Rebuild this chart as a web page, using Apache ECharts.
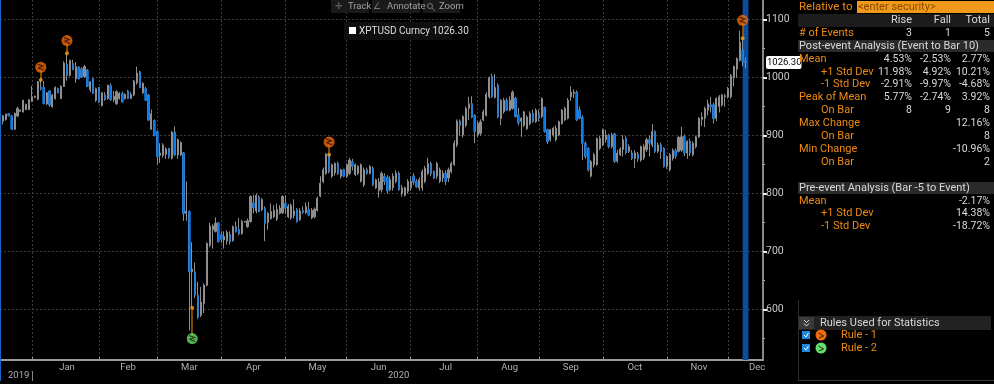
<!DOCTYPE html>
<html>
<head>
<meta charset="utf-8">
<style>
  html, body { margin: 0; padding: 0; background: #000; }
  #chart { width: 994px; height: 384px; }
</style>
<script src="https://cdn.jsdelivr.net/npm/echarts@6/dist/echarts.min.js"></script>
</head>
<body>
<div id="chart"></div>
<script>
// XPTUSD daily candles (one entry per weekday)
const opens = [
  927,925,928,938,934,911,934,942,941,945,
  945,959,966,963,983,983,955,977,950,964,
  981,964,985,1023,1004,1024,998,1018,1015,1002,
  1013,979,998,961,983,952,970,964,986,962,
  955,964,973,964,977,964,970,991,1010,974,
  981,970,911,926,907,866,866,868,878,861,
  906,867,867,870,766,769,665,665,625,590,
  610,642,711,738,735,750,729,720,718,729,
  719,743,738,731,751,743,752,784,770,794,
  772,775,750,757,760,756,766,767,783,760,
  758,762,772,755,771,767,772,758,760,771,
  796,821,835,868,830,836,852,830,841,830,
  835,855,833,835,821,815,841,835,844,810,
  805,807,830,828,807,810,821,835,800,797,
  804,810,830,821,810,810,821,835,852,838,
  830,821,827,835,827,838,850,884,925,901,
  918,947,955,935,901,904,927,935,967,1002,
  966,987,930,941,961,944,947,964,936,925,
  918,912,921,938,924,936,933,949,910,893,
  901,893,901,921,927,930,967,973,975,944,
  932,887,878,830,850,850,878,884,893,901,
  881,903,856,867,876,895,873,870,861,868,
  858,862,876,893,884,907,873,884,878,847,
  841,861,874,873,875,899,870,890,867,881,
  898,928,930,944,953,953,930,950,953,967,
  967,967,1000,1015,1030,1048,1028
];
const closes = [
  935,934,937,934,911,938,947,944,961,954,
  962,967,968,993,981,955,974,953,970,983,
  974,985,1025,1004,1030,1014,1019,998,1001,1019,
  985,993,973,981,958,974,963,987,962,968,
  976,973,958,971,964,971,994,1008,983,990,
  961,927,938,900,864,870,884,877,863,906,
  867,893,888,766,770,665,670,625,587,613,
  642,714,744,744,749,717,721,726,733,717,
  743,734,731,752,752,753,795,776,797,769,
  790,749,766,769,771,773,775,795,775,778,
  780,770,752,770,768,778,763,771,773,792,
  818,841,868,838,850,852,835,841,830,850,
  858,847,850,847,850,841,835,847,815,824,
  820,835,821,805,824,830,835,807,810,810,
  821,821,820,812,824,838,844,852,835,827,
  852,841,835,821,841,852,887,925,918,933,
  947,955,932,907,921,924,941,971,1000,967,
  983,932,961,961,944,961,975,933,922,930,
  941,932,938,924,944,930,964,907,890,910,
  913,913,924,944,947,961,975,975,927,930,
  887,864,841,855,867,895,895,910,901,881,
  901,856,870,877,893,871,881,861,870,860,
  881,881,893,887,907,873,884,873,847,864,
  867,875,865,897,898,870,890,870,887,898,
  930,932,947,955,950,930,964,967,970,969,
  981,1004,1019,1033,1061,1027,1026.3
];
const lows = [
  925,919,926,933,910,910,932,941,940,944,
  944,958,965,961,978,955,953,950,948,962,
  973,963,984,995,1002,1013,991,997,1000,1000,
  984,975,972,958,956,950,960,962,960,958,
  953,962,957,962,963,963,968,988,982,972,
  960,926,910,899,850,853,862,860,860,859,
  865,860,865,753,753,564,604,620,584,587,
  594,640,708,705,733,716,715,705,712,712,
  717,733,728,729,750,741,750,766,766,768,
  770,718,738,755,758,753,764,765,765,758,
  755,757,750,753,765,765,761,756,757,769,
  794,818,832,835,827,831,832,826,828,827,
  832,840,830,832,819,812,833,833,813,808,
  793,802,815,800,804,805,818,805,795,795,
  800,805,815,810,805,805,818,832,830,825,
  825,818,820,815,820,835,848,880,900,897,
  915,927,930,887,898,900,925,933,964,965,
  964,930,918,938,943,942,945,931,918,898,
  915,910,918,922,922,925,930,905,886,890,
  898,890,899,919,925,928,960,965,925,928,
  858,860,838,828,845,848,875,882,888,878,
  878,853,853,865,864,868,870,858,844,855,
  855,858,872,864,880,870,870,860,845,843,
  838,857,860,871,872,865,860,865,864,878,
  896,917,915,935,940,921,925,940,950,950,
  964,964,985,1000,1028,1020,1016
];
const highs = [
  937,936,938,939,936,940,950,945,962,955,
  963,986,969,994,996,994,975,978,972,985,
  983,987,1028,1041,1031,1031,1027,1020,1018,1022,
  1015,994,1000,983,984,975,975,988,990,977,
  978,975,976,973,979,975,996,1019,1012,992,
  984,972,945,928,909,887,887,880,879,908,
  916,895,890,872,821,771,716,681,648,639,
  645,716,750,747,759,751,735,735,737,735,
  745,752,758,755,753,757,797,798,800,797,
  792,778,768,783,780,783,780,797,797,782,
  783,790,775,775,778,785,786,775,776,795,
  830,845,870,868,852,854,855,843,843,852,
  862,860,852,849,852,845,845,849,847,826,
  827,838,835,832,830,835,840,838,815,812,
  825,830,835,825,828,842,848,862,855,840,
  855,845,840,840,845,855,892,928,928,935,
  950,967,968,937,925,928,945,975,1002,1007,
  1006,990,963,965,965,968,978,967,948,932,
  943,935,942,945,947,945,966,950,912,912,
  915,918,926,946,950,965,985,980,978,950,
  935,890,880,858,870,897,900,912,910,903,
  905,905,875,880,901,899,885,875,875,872,
  883,885,897,900,920,909,888,888,880,866,
  870,878,878,899,915,902,892,895,890,900,
  932,940,950,962,967,957,966,970,972,972,
  984,1006,1021,1035,1081,1068,1035
];

// time axis: 263 weekday slots, month starts and where the month names sit
const slotCount = 263;
const monthStarts = [11, 34, 54, 76, 98, 119, 141, 164, 185, 207, 229, 250];
const monthNames = ['Jan', 'Feb', 'Mar', 'Apr', 'May', 'Jun', 'Jul', 'Aug', 'Sep', 'Oct', 'Nov', 'Dec'];
const monthLabelSlots = [23, 44, 65, 87, 109, 130, 153, 175, 196, 218, 240, 260];

const majorTicks = [600, 700, 800, 900, 1000, 1100];
const minorTicks = [550, 650, 750, 850, 950, 1050];
const lastPrice = 1026.3;

// event markers: slot, dot value, icon value
const rule1Slots = [14, 23, 113, 255];
const rule1Dots = [996, 1042, 867, 1068];
const rule1Icons = [1018, 1064, 889, 1099];
const rule2Slots = [66];
const rule2Dots = [603];
const rule2Icons = [550];
const bandSlots = [255, 257];

// statistics panel
const statHeaders = ['Rise', 'Fall', 'Total'];
const statLabels = ['# of Events', 'Mean', '+1 Std Dev', '-1 Std Dev', 'Peak of Mean', 'On Bar', 'Max Change', 'On Bar', 'Min Change', 'On Bar'];
const statRise = ['3', '4.53%', '11.98%', '-2.91%', '5.77%', '8', '', '', '', ''];
const statFall = ['1', '-2.53%', '4.92%', '-9.97%', '-2.74%', '9', '', '', '', ''];
const statTotal = ['5', '2.77%', '10.21%', '-4.68%', '3.92%', '8', '12.16%', '8', '-10.96%', '2'];
const statRowY = [33, 59, 72, 84.5, 97, 110, 123, 136, 149, 162];
const statIndented = [false, false, true, true, false, true, false, true, false, true];
const preLabels = ['Mean', '+1 Std Dev', '-1 Std Dev'];
const preTotal = ['-2.17%', '14.38%', '-18.72%'];
const preRowY = [201, 213.5, 226];

const ORANGE = '#ee8a12';
const WHITE = '#d9d9d9';
const RULE1 = '#f26a0a';
const RULE2 = '#63e06a';
const FONT = 'Roboto, "Liberation Sans", sans-serif';
const GLYPH = 'path://M2 1L8 3.5L3 6L9 9';

const categories = Array.from({ length: slotCount }, (_, i) => String(i));
const candles = opens.map((o, i) => [o, closes[i], lows[i], highs[i]]);
// blue bodies go on top of the grey candles so the wicks stay grey
const downBodies = opens.map((o, i) => (o > closes[i] ? [o, closes[i], closes[i], o] : '-'));

const pairs = (slots, values) => slots.map((s, i) => [s, values[i]]);
const stems = (slots, dots, icons) => slots.map((s, i) => [{ coord: [s, dots[i]] }, { coord: [s, icons[i]] }]);

const txt = (x, y, text, fill, align, size) => ({
  type: 'text', x, y, silent: true, z: 20,
  style: { text, fill, font: `${size || 10.5}px ${FONT}`, textAlign: align || 'left', textVerticalAlign: 'middle' }
});
const box = (x, y, width, height, fill) => ({
  type: 'rect', silent: true, z: 15, shape: { x, y, width, height }, style: { fill }
});
const rule = (x1, y1, x2, y2, stroke) => ({
  type: 'line', silent: true, z: 25, shape: { x1, y1, x2, y2 }, style: { stroke, lineWidth: 1 }
});

const panel = [
  box(0, 0, 1, 381, '#1668c4'),
  rule(798.5, 300, 798.5, 380, '#2c2c2c'),
  rule(798, 380.5, 994, 380.5, '#3a3a3a'),
  txt(799, 7, 'Relative to', ORANGE, 'left', 11.5),
  box(857, 1, 137, 12, '#f0991a'),
  txt(858, 7, '<enter security>', '#8a4a00', 'left', 11),
  box(798, 14, 196, 13, '#1c1c1c'),
  box(798, 40, 196, 12, '#2a2a2a'),
  txt(799, 46, 'Post-event Analysis (Event to Bar 10)', WHITE, 'left', 11),
  box(798, 182, 196, 12, '#2a2a2a'),
  txt(799, 188, 'Pre-event Analysis (Bar -5 to Event)', WHITE, 'left', 11),
  box(798, 316, 193, 14, '#222'),
  box(799, 317, 15, 12, '#3a3a3a'),
  { type: 'polyline', silent: true, z: 25, shape: { points: [[804, 320], [806.5, 322.5], [809, 320]] }, style: { stroke: '#ddd', fill: 'none' } },
  { type: 'polyline', silent: true, z: 25, shape: { points: [[804, 323.5], [806.5, 326], [809, 323.5]] }, style: { stroke: '#ddd', fill: 'none' } },
  txt(820, 323, 'Rules Used for Statistics', WHITE, 'left', 11),
  // toolbar
  box(331, 0, 38, 13, '#1a1a1a'),
  box(372, 0, 48, 13, '#1a1a1a'),
  box(423, 0, 37, 13, '#1a1a1a'),
  txt(339, 7, '\u271b', '#777', 'center', 9),
  txt(348, 7, 'Track', '#a0a0a0', 'left', 9.5),
  txt(377, 7, '\u2220', '#777', 'center', 9),
  txt(387, 7, 'Annotate', '#a0a0a0', 'left', 9.5),
  { type: 'circle', silent: true, z: 20, shape: { cx: 430, cy: 6, r: 2.5 }, style: { fill: 'none', stroke: '#777' } },
  rule(432, 8, 435, 11, '#777'),
  txt(439, 7, 'Zoom', '#a0a0a0', 'left', 9.5),
  // series legend
  box(344, 22, 108, 18, '#0f0f0f'),
  box(349, 27, 7, 7, '#fff'),
  txt(359, 31, 'XPTUSD Curncy 1026.30', '#dcdcdc', 'left', 10),
  // year row
  txt(8, 376, '2019', '#b0b0b0', 'left', 9.5),
  rule(32.5, 371, 32.5, 381, '#888'),
  txt(388, 376, '2020', '#b0b0b0', 'left', 9.5)
];
statHeaders.forEach((h, i) => panel.push(txt([912, 951, 990][i], 20, h, WHITE, 'right', 11)));
statLabels.forEach((label, i) => {
  panel.push(txt(statIndented[i] ? 821 : 799, statRowY[i], label, ORANGE, 'left', 11));
  panel.push(txt(912, statRowY[i], statRise[i], WHITE, 'right'));
  panel.push(txt(951, statRowY[i], statFall[i], WHITE, 'right'));
  panel.push(txt(990, statRowY[i], statTotal[i], WHITE, 'right'));
});
preLabels.forEach((label, i) => {
  panel.push(txt(i ? 821 : 799, preRowY[i], label, ORANGE, 'left', 11));
  panel.push(txt(990, preRowY[i], preTotal[i], WHITE, 'right'));
});
[[335, RULE1, 'Rule - 1'], [348, RULE2, 'Rule - 2']].forEach(([y, fill, name]) => {
  panel.push(box(802, y - 4, 8, 8, '#1e88e5'));
  panel.push(rule(804, y, 806, y + 2, '#fff'));
  panel.push(rule(806, y + 2, 808.5, y - 2, '#fff'));
  panel.push({ type: 'circle', silent: true, z: 20, shape: { cx: 821, cy: y, r: 5.5 }, style: { fill } });
  panel.push(rule(818.5, y - 2, 823.5, y + 1, '#222'));
  panel.push(rule(823.5, y + 1, 819, y + 3, '#222'));
  panel.push(txt(841, y, name, ORANGE, 'left', 11));
});

const chart = echarts.init(document.getElementById('chart'));
chart.setOption({
  animation: false,
  backgroundColor: '#000',
  textStyle: { fontFamily: FONT },
  grid: { left: 0, right: 231, top: 0, bottom: 24 },
  xAxis: {
    type: 'category',
    data: categories,
    boundaryGap: false,
    axisLine: { lineStyle: { color: '#9a9a9a', width: 2 } },
    axisTick: {
      interval: (i) => monthStarts.includes(i),
      length: -3,
      lineStyle: { color: '#9a9a9a' }
    },
    axisLabel: {
      interval: (i) => monthLabelSlots.includes(i),
      formatter: (v) => monthNames[monthLabelSlots.indexOf(Number(v))],
      color: '#b0b0b0',
      fontSize: 9.5,
      margin: 3
    },
    splitLine: {
      show: true,
      interval: (i) => monthStarts.includes(i),
      lineStyle: { color: '#3c3c3c', type: [2, 2] }
    }
  },
  yAxis: [
    {
      type: 'value',
      position: 'right',
      min: 513,
      max: 1134,
      axisLine: { show: true, lineStyle: { color: '#8a8a8a', width: 2 } },
      axisTick: { show: true, customValues: majorTicks, length: 4, lineStyle: { color: '#eee', width: 2 } },
      axisLabel: { customValues: majorTicks, formatter: (v) => String(v), color: '#c8c8c8', fontSize: 10.5, margin: 3 },
      splitLine: { show: true, lineStyle: { color: '#3c3c3c', type: [2, 2] } }
    },
    {
      type: 'value',
      position: 'right',
      min: 513,
      max: 1134,
      axisLine: { show: false },
      axisTick: { show: true, customValues: minorTicks, length: 2, lineStyle: { color: '#aaa' } },
      axisLabel: { show: false },
      splitLine: { show: false }
    }
  ],
  graphic: panel,
  series: [
    {
      type: 'candlestick',
      name: 'XPTUSD Curncy',
      data: candles,
      barWidth: 1.6,
      z: 3,
      itemStyle: {
        color: '#8a8a8a', color0: '#8a8a8a',
        borderColor: '#8f8f8f', borderColor0: '#8f8f8f', borderColorDoji: '#8f8f8f',
        borderWidth: 1
      },
      markArea: {
        silent: true,
        itemStyle: { color: '#0d4c99' },
        data: [[{ xAxis: bandSlots[0] }, { xAxis: bandSlots[1] }]]
      }
    },
    {
      type: 'candlestick',
      name: 'Down bodies',
      data: downBodies,
      barWidth: 2,
      z: 4,
      itemStyle: {
        color: '#0a78e6', color0: '#0a78e6',
        borderColor: '#0a78e6', borderColor0: '#0a78e6', borderColorDoji: '#0a78e6',
        borderWidth: 0.5
      },
      markLine: {
        silent: true,
        symbol: 'none',
        lineStyle: { color: 'transparent' },
        label: {
          show: true,
          position: 'end',
          formatter: '1026.30',
          distance: 3,
          color: '#000',
          backgroundColor: '#fff',
          fontFamily: FONT,
          fontSize: 9.5,
          padding: [2, 0, 1, 1],
          borderRadius: 2
        },
        data: [{ yAxis: lastPrice }]
      }
    },
    {
      type: 'scatter',
      name: 'Rule 1 dots',
      data: pairs(rule1Slots, rule1Dots),
      symbolSize: 4,
      z: 6,
      itemStyle: { color: '#f0a020' },
      markLine: {
        silent: true, symbol: 'none', label: { show: false },
        lineStyle: { color: '#a86000', type: 'solid', width: 1.5 },
        data: stems(rule1Slots, rule1Dots, rule1Icons)
      }
    },
    {
      type: 'scatter',
      name: 'Rule 2 dots',
      data: pairs(rule2Slots, rule2Dots),
      symbolSize: 4,
      z: 6,
      itemStyle: { color: '#f0a020' },
      markLine: {
        silent: true, symbol: 'none', label: { show: false },
        lineStyle: { color: '#a86000', type: 'solid', width: 1.5 },
        data: stems(rule2Slots, rule2Dots, rule2Icons)
      }
    },
    {
      type: 'scatter', name: 'Rule 1', data: pairs(rule1Slots, rule1Icons),
      symbolSize: 11, z: 7, itemStyle: { color: RULE1 }
    },
    {
      type: 'scatter', name: 'Rule 2', data: pairs(rule2Slots, rule2Icons),
      symbolSize: 11, z: 7, itemStyle: { color: RULE2 }
    },
    {
      type: 'scatter', name: 'Rule glyphs',
      data: pairs(rule1Slots.concat(rule2Slots), rule1Icons.concat(rule2Icons)),
      symbol: GLYPH, symbolSize: 6, z: 8,
      itemStyle: { color: 'transparent', borderColor: '#241000', borderWidth: 1.2 }
    }
  ]
});
</script>
</body>
</html>
